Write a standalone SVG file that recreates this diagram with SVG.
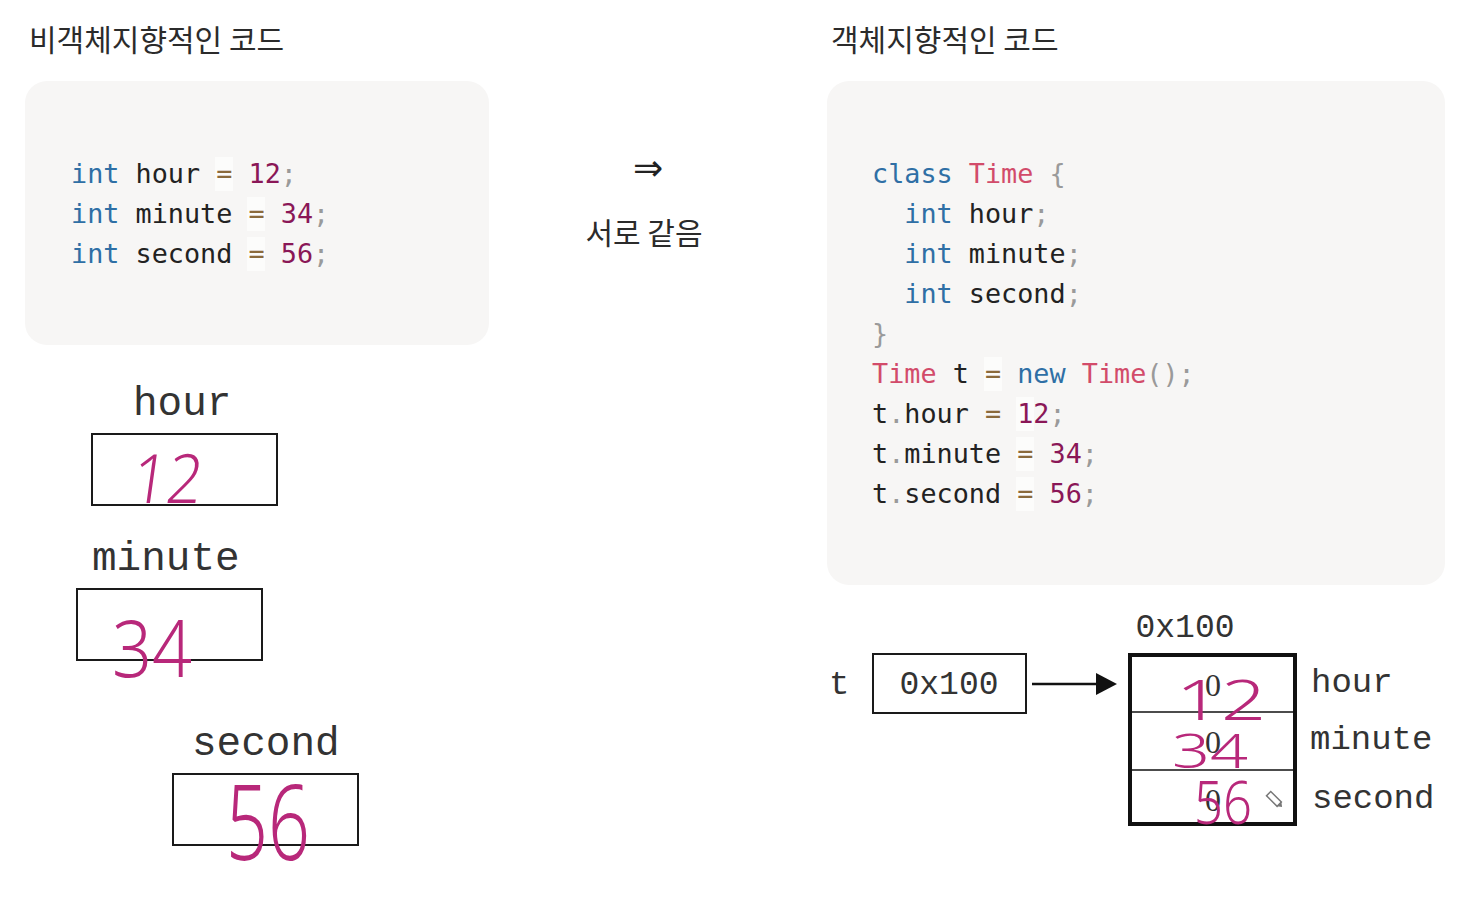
<svg xmlns="http://www.w3.org/2000/svg" width="1468" height="902" viewBox="0 0 1468 902">
<defs>
<style>
.title{font-family:"Noto Sans CJK KR","Noto Sans",sans-serif;font-size:30px;fill:#2b2b2b}
.code{font-family:"DejaVu Sans Mono",monospace;font-size:26.8px;fill:#222;white-space:pre}
.kw{fill:#2f6fa5}
.ty{fill:#d24b6a}
.num{fill:#8a1757}
.op{fill:#8b6a3c}
.pn{fill:#9a9a9a}
.codebox{fill:#f7f6f5}
.mono{font-family:"Liberation Mono","Courier New",monospace;fill:#333}
.zero{font-family:"Liberation Serif",serif;fill:#333}
.cell{fill:#fff;stroke:#1a1a1a;stroke-width:2}
.hand{font-family:"Noto Sans","DejaVu Sans",sans-serif;font-weight:300;fill:#b8287a}
.eqbg{fill:#fcfcfb}
</style>
</defs>
<rect width="1468" height="902" fill="#ffffff"/>

<g id="left-title"><text class="title" x="29" y="51">비객체지향적인 코드</text></g>
<g id="right-title"><text class="title" x="831" y="51">객체지향적인 코드</text></g>

<g id="left-code">
<rect class="codebox" x="25" y="81" width="464" height="264" rx="22"/>
<rect class="eqbg" x="215" y="157" width="18" height="34"/>
<rect class="eqbg" x="247" y="197" width="18" height="34"/>
<rect class="eqbg" x="247" y="237" width="18" height="34"/>
<text class="code" x="71" y="183"><tspan class="kw">int</tspan> hour <tspan class="op">=</tspan> <tspan class="num">12</tspan><tspan class="pn">;</tspan></text>
<text class="code" x="71" y="223"><tspan class="kw">int</tspan> minute <tspan class="op">=</tspan> <tspan class="num">34</tspan><tspan class="pn">;</tspan></text>
<text class="code" x="71" y="263"><tspan class="kw">int</tspan> second <tspan class="op">=</tspan> <tspan class="num">56</tspan><tspan class="pn">;</tspan></text>
</g>

<g id="middle">
<text x="648" y="180" text-anchor="middle" style="font-family:'DejaVu Sans',sans-serif;font-size:36px;fill:#222">⇒</text>
<text class="title" x="644" y="244" text-anchor="middle">서로 같음</text>
</g>

<g id="right-code">
<rect class="codebox" x="827" y="81" width="618" height="504" rx="22"/>
<rect class="eqbg" x="984" y="357" width="18" height="34"/>
<rect class="eqbg" x="1016" y="397" width="18" height="34"/>
<rect class="eqbg" x="1016" y="437" width="18" height="34"/>
<rect class="eqbg" x="1016" y="477" width="18" height="34"/>
<text class="code" x="872" y="183"><tspan class="kw">class</tspan> <tspan class="ty">Time</tspan> <tspan class="pn">{</tspan></text>
<text class="code" x="872" y="223">  <tspan class="kw">int</tspan> hour<tspan class="pn">;</tspan></text>
<text class="code" x="872" y="263">  <tspan class="kw">int</tspan> minute<tspan class="pn">;</tspan></text>
<text class="code" x="872" y="303">  <tspan class="kw">int</tspan> second<tspan class="pn">;</tspan></text>
<text class="code" x="872" y="343"><tspan class="pn">}</tspan></text>
<text class="code" x="872" y="383"><tspan class="ty">Time</tspan> t <tspan class="op">=</tspan> <tspan class="kw">new</tspan> <tspan class="ty">Time</tspan><tspan class="pn">();</tspan></text>
<text class="code" x="872" y="423">t<tspan class="pn">.</tspan>hour <tspan class="op">=</tspan> <tspan class="num">12</tspan><tspan class="pn">;</tspan></text>
<text class="code" x="872" y="463">t<tspan class="pn">.</tspan>minute <tspan class="op">=</tspan> <tspan class="num">34</tspan><tspan class="pn">;</tspan></text>
<text class="code" x="872" y="503">t<tspan class="pn">.</tspan>second <tspan class="op">=</tspan> <tspan class="num">56</tspan><tspan class="pn">;</tspan></text>
</g>

<g id="var-hour">
<text class="mono" x="133" y="415" style="font-size:41px">hour</text>
<rect class="cell" x="92" y="434" width="185" height="71"/>
<text class="hand" x="200" y="503" style="font-size:68px" transform="skewX(-8)" textLength="70" lengthAdjust="spacingAndGlyphs">12</text>
</g>

<g id="var-minute">
<text class="mono" x="92" y="570" style="font-size:41px">minute</text>
<rect class="cell" x="77" y="589" width="185" height="71"/>
<text class="hand" x="112" y="677" style="font-size:80px" textLength="80" lengthAdjust="spacingAndGlyphs">34</text>
</g>

<g id="var-second">
<text class="mono" x="192" y="755" style="font-size:41px">second</text>
<rect class="cell" x="173" y="774" width="185" height="71"/>
<text class="hand" x="226" y="860" style="font-size:104px" textLength="84" lengthAdjust="spacingAndGlyphs">56</text>
</g>

<g id="ref-t">
<text class="mono" x="829" y="694" style="font-size:34px">t</text>
<rect class="cell" x="873" y="654" width="153" height="59"/>
<text class="mono" x="949" y="694" text-anchor="middle" style="font-size:33px">0x100</text>
</g>

<g id="connectors">
<line x1="1032" y1="684" x2="1098" y2="684" stroke="#111" stroke-width="2.5"/>
<polygon points="1096,673 1117,684 1096,695" fill="#111"/>
</g>

<g id="object">
<text class="mono" x="1185" y="637" text-anchor="middle" style="font-size:33px">0x100</text>
<rect x="1130" y="655" width="165" height="169" fill="#fff" stroke="#111" stroke-width="4"/>
<line x1="1130" y1="712" x2="1295" y2="712" stroke="#111" stroke-width="1.5"/>
<line x1="1130" y1="770" x2="1295" y2="770" stroke="#111" stroke-width="1.5"/>
<text class="zero" x="1213" y="696" text-anchor="middle" style="font-size:32px">0</text>
<text class="zero" x="1213" y="753" text-anchor="middle" style="font-size:32px">0</text>
<text class="zero" x="1213" y="811" text-anchor="middle" style="font-size:32px">0</text>
<text class="hand" x="1176" y="720" style="font-size:56px" textLength="90" lengthAdjust="spacingAndGlyphs">12</text>
<text class="hand" x="1172" y="768" style="font-size:48px" textLength="76" lengthAdjust="spacingAndGlyphs">34</text>
<text class="hand" x="1194" y="824" style="font-size:60px" textLength="58" lengthAdjust="spacingAndGlyphs">56</text>
<g transform="translate(1275,800) rotate(45)">
<rect x="-9" y="-3" width="15" height="6" fill="#fff" stroke="#777" stroke-width="1.5"/>
<path d="M6,-3 L10,0 L6,3 z" fill="#777"/>
</g>
<text class="mono" x="1311" y="692" style="font-size:34px">hour</text>
<text class="mono" x="1310" y="749" style="font-size:34px">minute</text>
<text class="mono" x="1312" y="808" style="font-size:34px">second</text>
</g>
</svg>
